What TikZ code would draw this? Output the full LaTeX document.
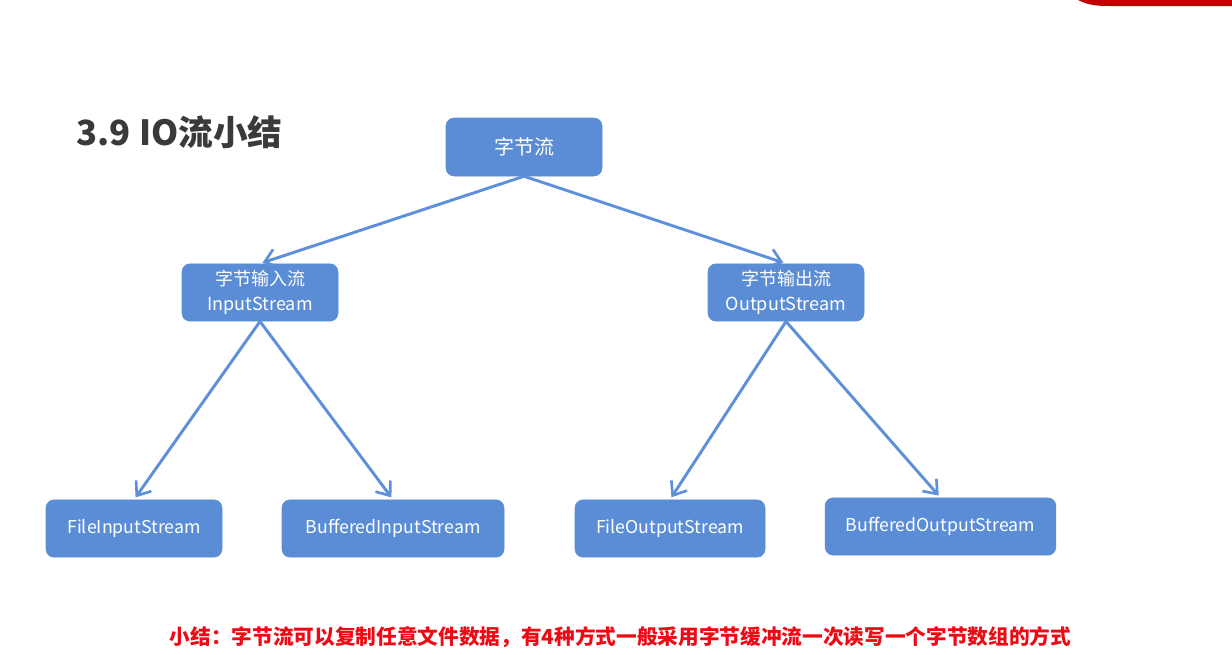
\documentclass[tikz,border=0pt]{standalone}
\usepackage{fontspec}
\setmainfont{Noto Sans CJK SC}
\usetikzlibrary{arrows.meta}
\definecolor{boxblue}{HTML}{5A8DD6}
\definecolor{lineblue}{HTML}{5E90DA}
\definecolor{titlegray}{HTML}{3A3A3A}
\definecolor{notered}{HTML}{EE0A14}
\definecolor{barred}{HTML}{C00000}
\tikzset{
  streambox/.style={draw=boxblue, fill=boxblue, rounded corners=6pt, text=white, align=center, inner sep=0pt},
  flowline/.style={draw=lineblue, line width=2.2pt, -{Straight Barb[length=9pt,width=14pt,line width=2pt]}, shorten >=2pt}
}
\begin{document}
\begin{tikzpicture}[x=0.75pt,y=0.75pt,yscale=-1,xscale=1]
\useasboundingbox (0,0) rectangle (1232,654);

%Shape: Bar [id:top right]
\fill[barred] (1078,0) .. controls (1088,5) and (1096,6) .. (1110,6) -- (1232,6) -- (1232,0) -- cycle ;

%Title
\node[text=titlegray, font=\fontsize{26}{30}\selectfont\bfseries, anchor=west] (title) at (72,132) {3.9 IO流小结};

%Rounded Rect
\node[streambox, minimum width=117pt, minimum height=43.5pt, font=\fontsize{15}{18}\selectfont] (byte) at (524,147) {字节流};
%Rounded Rect
\node[streambox, minimum width=117pt, minimum height=43pt, font=\fontsize{13.5}{18.5}\selectfont] (in) at (260,292.5) {字节输入流\\InputStream};
\node[streambox, minimum width=117pt, minimum height=43pt, font=\fontsize{13.5}{18.5}\selectfont] (out) at (786,292.5) {字节输出流\\OutputStream};
%Rounded Rect
\node[streambox, minimum width=132pt, minimum height=43pt, font=\fontsize{13.3}{15}\selectfont] (fin) at (134,528.5) {FileInputStream};
\node[streambox, minimum width=166.5pt, minimum height=43pt, font=\fontsize{13.3}{15}\selectfont] (bin) at (393,528.5) {BufferedInputStream};
\node[streambox, minimum width=142.5pt, minimum height=43pt, font=\fontsize{13.3}{15}\selectfont] (fout) at (670,528.5) {FileOutputStream};
\node[streambox, minimum width=173pt, minimum height=43pt, font=\fontsize{13.3}{15}\selectfont] (bout) at (940.5,526.5) {BufferedOutputStream};

%Straight Lines
\draw[flowline] (byte.south) -- (in.north) ;
\draw[flowline] (byte.south) -- (out.north) ;
%Straight Lines
\draw[flowline] (in.south) -- (fin.north) ;
\draw[flowline] (in.south) -- (bin.north) ;
\draw[flowline] (out.south) -- (fout.north) ;
\draw[flowline] (out.south) -- (bout.north) ;

%Note
\node[text=notered, font=\fontsize{15.5}{19}\selectfont\bfseries] (note) at (620.5,637) {小结：字节流可以复制任意文件数据，有4种方式一般采用字节缓冲流一次读写一个字节数组的方式};

\end{tikzpicture}
\end{document}
